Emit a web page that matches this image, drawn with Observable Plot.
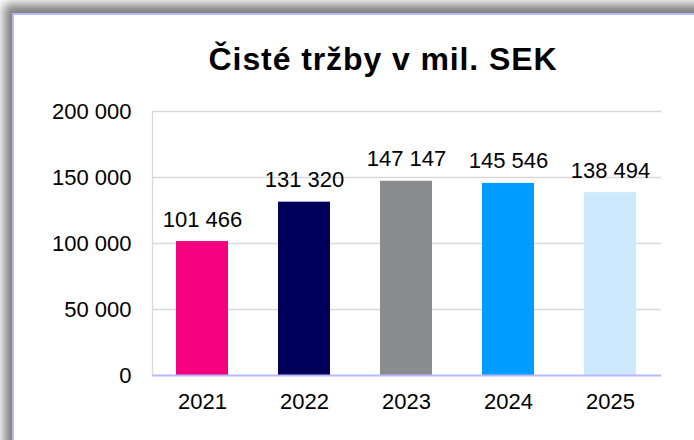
<!DOCTYPE html>
<html>
<head>
<meta charset="utf-8">
<script src="https://cdn.jsdelivr.net/npm/d3@7"></script>
<script src="https://cdn.jsdelivr.net/npm/@observablehq/plot@0.6"></script>
<style>
  html, body { margin: 0; padding: 0; background: #fff; overflow: hidden; }
  #wrap { position: relative; width: 694px; height: 440px; overflow: hidden; background: #fff; }
  #panel {
    position: absolute; left: 12px; top: 13px; width: 720px; height: 460px;
    background: #fff;
    border-left: 2px solid #b8b8fb; border-top: 2px solid #b8b8fb;
    box-shadow: -4px -5px 10px 4px rgba(0,0,0,0.5);
  }
  #chart { position: absolute; left: 0; top: 0; }
  #chart svg { font-family: "Liberation Sans", Arial, sans-serif; background: transparent; }
</style>
</head>
<body>
<div id="wrap">
  <div id="panel"></div>
  <div id="chart"></div>
</div>
<script>
const title = "Čisté tržby v mil. SEK";
const years = ["2021", "2022", "2023", "2024", "2025"];
const sales = [101466, 131320, 147147, 145546, 138494];
const yTicks = [0, 50000, 100000, 150000, 200000];

const palette = ["#f5007f", "#00005a", "#8a8c8f", "#009cff", "#cce9fd"];
const fmt = d => d3.format(",")(d).replace(/,/g, " ");

const data = years.map((year, i) => ({year, value: sales[i]}));

const chart = Plot.plot({
  width: 694,
  height: 440,
  marginTop: 111,
  marginBottom: 65,
  marginLeft: 152,
  marginRight: 33,
  style: {fontFamily: "'Liberation Sans', Arial, sans-serif", fontSize: "22px", color: "#000", background: "transparent"},
  x: {domain: years, paddingInner: 0.49, paddingOuter: 0.235, label: null},
  y: {domain: [0, 200000], label: null},
  color: {domain: years, range: palette},
  marks: [
    Plot.ruleY(yTicks.filter(d => d > 0), {stroke: "#d9d9d9", strokeWidth: 1.3}),
    Plot.frame({anchor: "left", stroke: "#d9d9d9", strokeWidth: 1.3}),
    Plot.barY(data, {x: "year", y: "value", fill: "year"}),
    Plot.ruleY([0], {stroke: "#b8b8fb", strokeWidth: 2}),
    Plot.axisY({ticks: yTicks, tickFormat: fmt, tickSize: 0, tickPadding: 21, fontSize: 22, fill: "#000", label: null}),
    Plot.axisX({tickSize: 0, tickPadding: 18, fontSize: 22, fill: "#000", label: null}),
    Plot.text(data, {x: "year", y: "value", text: d => fmt(d.value), lineAnchor: "bottom", dy: -15, fontSize: 22, fill: "#000"}),
    Plot.text([title], {frameAnchor: "top", dx: -24, dy: -42, lineAnchor: "bottom", fontSize: 32, fontWeight: "bold", fill: "#000"})
  ]
});

document.getElementById("chart").appendChild(chart);
chart.querySelectorAll("text").forEach(t => {
  if (t.textContent === title) t.style.letterSpacing = "0.9px";
});
</script>
</body>
</html>
